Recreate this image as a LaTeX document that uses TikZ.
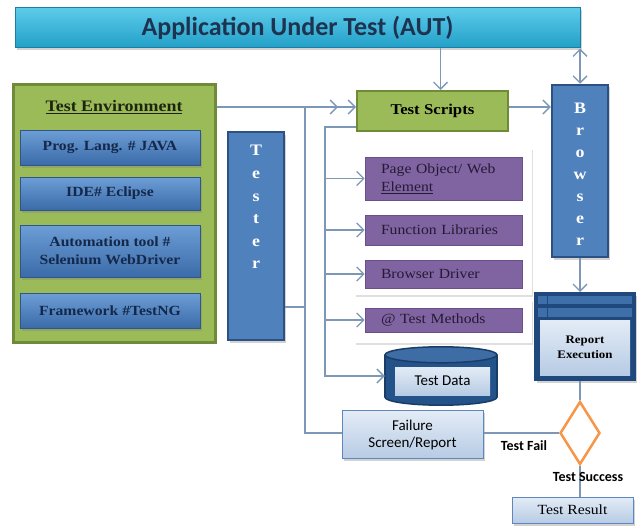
\documentclass[tikz,border=0pt]{standalone}
\usepackage{fontspec}
\setmainfont{Liberation Serif}[FakeStretch=1.12]
\newfontfamily\calibri{Carlito}
\usepackage{tikz}
\usetikzlibrary{positioning,shapes.geometric,arrows.meta,calc,shadows}

\definecolor{linkgray}{HTML}{7C98B6}
\definecolor{authi}{HTML}{5CCBEA}
\definecolor{autlo}{HTML}{229FC8}
\definecolor{autline}{HTML}{1B7FA3}
\definecolor{auttext}{HTML}{1D3350}
\definecolor{envfill}{HTML}{9BBB59}
\definecolor{envline}{HTML}{6F8B37}
\definecolor{envtext}{HTML}{1E2410}
\definecolor{toolhi}{HTML}{6E9ED6}
\definecolor{toollo}{HTML}{3B6BA8}
\definecolor{toolline}{HTML}{2E5686}
\definecolor{tooltext}{HTML}{13284A}
\definecolor{colfill}{HTML}{4F81BD}
\definecolor{colline}{HTML}{2E5184}
\definecolor{libfill}{HTML}{8064A2}
\definecolor{libline}{HTML}{6A5089}
\definecolor{libtext}{HTML}{241A33}
\definecolor{reshi}{HTML}{E3ECF6}
\definecolor{reslo}{HTML}{B7CBE4}
\definecolor{resline}{HTML}{5D87BE}
\definecolor{decide}{HTML}{F79646}
\definecolor{repdark}{HTML}{1F497D}
\definecolor{repband}{HTML}{3F6FA8}
\definecolor{cylbody}{HTML}{24538A}
\definecolor{cyltop}{HTML}{3E6CA5}
\definecolor{cylline}{HTML}{1A3D68}

\begin{document}
\begin{tikzpicture}[x=1pt, y=-1pt,
    link/.style={draw=linkgray, line width=1.3pt},
    tip/.style={link, -{Straight Barb[length=7pt,width=14pt]}},
    dbltip/.style={link, {Straight Barb[length=7pt,width=14pt]}-{Straight Barb[length=7pt,width=14pt]}},
    boxshadow/.style={drop shadow={opacity=0.35, shadow xshift=1.5pt, shadow yshift=-2.5pt}},
    toolbox/.style={rectangle, minimum width=180pt, top color=toolhi, bottom color=toollo,
        draw=toolline, line width=1pt, boxshadow, text=tooltext, align=center,
        font=\fontsize{14}{18}\selectfont\bfseries},
    column/.style={rectangle, fill=colfill, draw=colline, line width=2.5pt, minimum width=56pt, boxshadow},
    coltext/.style={text=white, align=center, inner sep=0pt, anchor=north},
    libbox/.style={rectangle, fill=libfill, draw=libline, line width=.8pt, minimum width=157pt,
        text width=125pt, align=left, text=libtext, font=\fontsize{14}{18}\selectfont},
    panel/.style={rectangle, fill=white, minimum width=177pt,
        drop shadow={opacity=.25, shadow xshift=1pt, shadow yshift=-1.5pt}},
    resultbox/.style={rectangle, top color=reshi, bottom color=reslo, draw=resline, line width=1pt,
        boxshadow, align=center},
    flowtext/.style={font=\calibri\fontsize{14}{16}\selectfont\bfseries, inner sep=0pt}
]
    \useasboundingbox (0,0) rectangle (643,527);
    \fill[white] (0,0) rectangle (643,527);

    % top bar
    \node[rectangle, minimum width=565pt, minimum height=40pt, top color=authi, bottom color=autlo,
        draw=autline, line width=1pt, boxshadow, text=auttext,
        font=\calibri\fontsize{26}{28}\selectfont\bfseries] (aut) at (297.5,28) {Application Under Test (AUT)};

    % test environment
    \node[rectangle, minimum width=202pt, minimum height=257pt, fill=envfill, draw=envline, line width=3pt] (env) at (114,213.5) {};
    \node[text=envtext, font=\fontsize{16}{18}\selectfont\bfseries] (envtitle) at (114,107) {\underline{Test Environment}};
    \node[toolbox, minimum height=35pt] (lang) at (110,147.5) {Prog. Lang. \# JAVA};
    \node[toolbox, minimum height=33pt] (ide) at (110,193.5) {IDE\# Eclipse};
    \node[toolbox, minimum height=52pt] (selenium) at (110,251) {Automation tool \#\\Selenium WebDriver};
    \node[toolbox, minimum height=35pt] (testng) at (110,310.5) {Framework \#TestNG};

    % tester and browser
    \node[column, minimum height=208pt] (tester) at (256,236) {};
    \node[coltext, font=\fontsize{16}{22.6}\selectfont\bfseries] (testertxt) at ([yshift=-14.5pt]tester.north) {T\\e\\s\\t\\e\\r};
    \node[column, minimum height=172pt] (browser) at (580,171) {};
    \node[coltext, font=\fontsize{16}{22}\selectfont\bfseries] (browsertxt) at ([yshift=-19.5pt]browser.north) {B\\r\\o\\w\\s\\e\\r};

    % test scripts
    \node[rectangle, minimum width=151pt, minimum height=40pt, fill=envfill, draw=envline, line width=2pt,
        font=\fontsize{15}{16}\selectfont\bfseries] (scripts) at (432.5,111) {Test Scripts};
    \node[panel, minimum height=147pt] (panela) at (443.5,221.5) {};
    \node[panel, minimum height=43pt] (panelb) at (443.5,321.5) {};
    \node[libbox, minimum height=43pt] (pageobj) at (443.5,178.5) {Page Object/ Web\\\underline{Element}};
    \node[libbox, minimum height=30pt] (funclib) at (443.5,230) {Function Libraries};
    \node[libbox, minimum height=28pt] (bdriver) at (443.5,274) {Browser Driver};
    \node[libbox, minimum height=24pt] (tmethods) at (443.5,320) {@ Test Methods};

    % test data
    \node[rectangle, minimum width=112pt, minimum height=58pt, inner sep=0pt] (tdata) at (441,376) {};
    \draw[cylline, fill=cylbody, line width=1.5pt] ($(tdata.south)+(0,-8)$) ellipse [x radius=56, y radius=8];
    \fill[cylbody] ($(tdata.north west)+(0,8)$) rectangle ($(tdata.south east)+(0,-8)$);
    \draw[cylline, line width=1.5pt] ($(tdata.north west)+(0,8)$) -- ($(tdata.south west)+(0,-8)$)
        ($(tdata.north east)+(0,8)$) -- ($(tdata.south east)+(0,-8)$);
    \draw[cylline, fill=cyltop, line width=1.5pt] ($(tdata.north)+(0,8)$) ellipse [x radius=56, y radius=8];
    \node[rectangle, minimum width=95pt, minimum height=28pt, top color=reshi, bottom color=reslo,
        font=\calibri\fontsize{15}{16}\selectfont] (tdatatxt) at (442.5,381) {Test Data};

    % report execution
    \node[rectangle, minimum width=100pt, minimum height=87pt, fill=repdark, draw=repdark, line width=2pt, boxshadow] (report) at (585,336.5) {};
    \fill[repband] ($(report.north west)+(4,4)$) rectangle ($(report.north east)+(-4,12)$);
    \fill[repband] ($(report.north west)+(4,16)$) rectangle ($(report.north east)+(-4,25)$);
    \draw[repdark, line width=1pt] ($(report.north west)+(13,3)$) -- ($(report.north west)+(13,26)$);
    \node[rectangle, minimum width=90pt, minimum height=55pt, top color=reshi, bottom color=reslo, align=center,
        inner sep=0pt, font=\fontsize{11.5}{15}\selectfont\bfseries] (reptxt) at (585,347.5) {Report\\Execution};

    % decision and results
    \node[diamond, minimum width=40pt, minimum height=63pt, draw=decide, line width=2.5pt, fill=white, inner sep=0pt] (check) at (580,433) {};
    \node[resultbox, minimum width=141pt, minimum height=48pt, font=\calibri\fontsize{15}{17}\selectfont] (failure) at (412.5,434.5) {Failure\\Screen/Report};
    \node[resultbox, minimum width=121pt, minimum height=26pt, font=\fontsize{14}{15}\selectfont] (result) at (572.5,510) {Test Result};

    % connectors
    \coordinate (split) at (305,107);
    \coordinate (fork) at ([yshift=-16pt,xshift=-31pt]scripts.west);
    \draw[link] (env.east |- split) -- (split) -- (split |- check.west) -- (check.west -| failure.west);
    \draw[tip] (split) -- ([xshift=-18pt]split -| scripts.west);
    \draw[tip] (split) -- (split -| scripts.west);
    \draw[link] ([yshift=-71pt]tester.east) -- ([yshift=-71pt]tester.east -| split);
    \draw[tip] ([yshift=-16pt]scripts.west) -- (fork) -- (fork |- tdata.west) -- (tdata.west);
    \foreach \lib in {pageobj,funclib,bdriver,tmethods}
        \draw[tip] (fork |- \lib.west) -- (\lib.west);
    \draw[tip] ([xshift=8pt]scripts.north |- aut.south) -- ([xshift=8pt]scripts.north);
    \draw[dbltip] (browser.north |- aut.south) -- (browser.north);
    \draw[tip] (scripts.east |- split) -- (browser.west |- split);
    \draw[tip] (browser.south) -- (browser.south |- report.north);
    \draw[link] (check.north |- report.south) -- (check.north);
    \draw[link] (check.west) -- (check.west -| failure.east);
    \draw[link] (check.south) -- (check.south |- result.north);
    \node[flowtext] (fail) at (524,446) {Test Fail};
    \node[flowtext] (success) at (588,477) {Test Success};
\end{tikzpicture}
\end{document}
